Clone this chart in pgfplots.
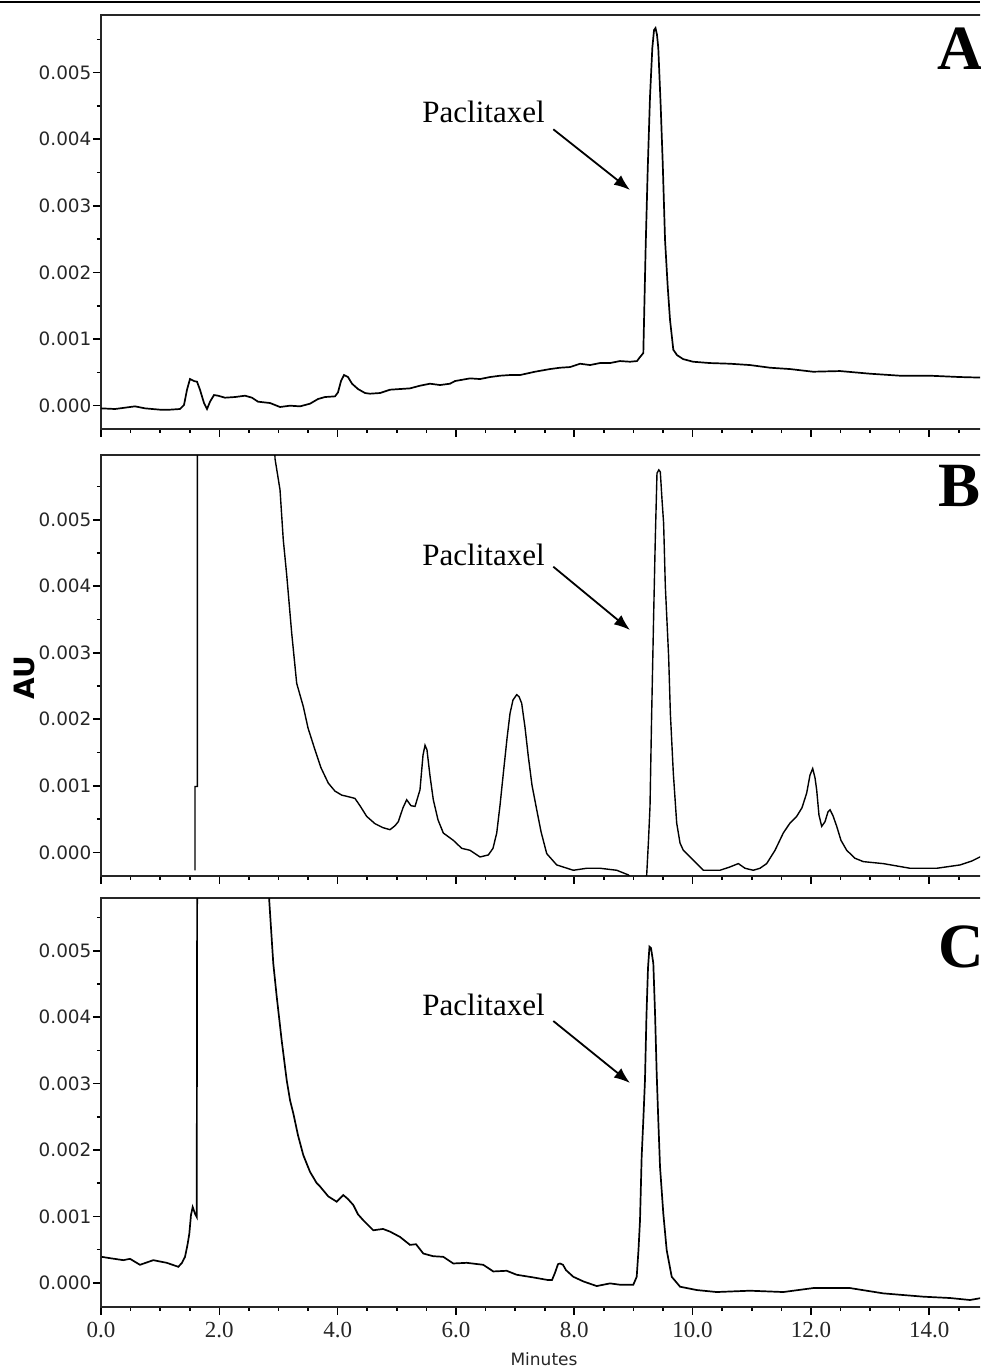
\documentclass[border=0pt]{standalone}
\usepackage{pgfplots}
\pgfplotsset{compat=1.18}
\usepackage{fontspec}
\setmainfont{Liberation Serif}
\newfontfamily\dejavu{DejaVu Sans}
\usetikzlibrary{arrows.meta}

\pgfplotsset{
  chrom/.style={
    scale only axis, width=443.7pt, anchor=north west,
    xmin=0, xmax=15,
    xtick={0,2,4,6,8,10,12,14},
    minor xtick={0.5,1,1.5,2.5,3,3.5,4.5,5,5.5,6.5,7,7.5,8.5,9,9.5,10.5,11,11.5,12.5,13,13.5,14.5},
    ytick={0,0.001,0.002,0.003,0.004,0.005},
    minor ytick={0.0005,0.0015,0.0025,0.0035,0.0045,0.0055},
    yticklabels={0.000,0.001,0.002,0.003,0.004,0.005},
    scaled y ticks=false, scaled x ticks=false,
    tick align=outside, xtick pos=left, ytick pos=left,
    major tick length=4pt, minor tick length=2pt,
    axis line style={line width=0.9pt, black!85},
    tick style={line width=0.8pt, black},
    yticklabel style={font=\dejavu\fontsize{9.2}{10}\selectfont, inner xsep=0.6pt, text=black!85},
    xticklabel style={font=\fontsize{11.5}{12}\selectfont, text=black!85},
  }
}

\begin{document}
\begin{tikzpicture}
\useasboundingbox (0,0) rectangle (490pt,-684.5pt);
\clip (0,0) rectangle (490pt,-684.5pt);

% ---------- Panel A ----------
\begin{axis}[chrom, at={(50.5pt,-7.5pt)}, height=207pt,
  ymin=-0.00035, ymax=0.005866, xticklabels={}]
\addplot[black, line width=0.85pt] coordinates {
(0.000,-0.00004) (0.237,-0.00005) (0.406,-0.00003) (0.575,-0.00001) (0.744,-0.00004)
(0.997,-0.00006) (1.166,-0.00006) (1.335,-0.00005) (1.403,0.00001) (1.454,0.00024)
(1.504,0.00040) (1.572,0.00037) (1.623,0.00036) (1.673,0.00024) (1.741,0.00004)
(1.792,-0.00005) (1.843,0.00006) (1.910,0.00016) (1.978,0.00015) (2.096,0.00012)
(2.265,0.00013) (2.434,0.00015) (2.552,0.00012) (2.654,0.00006) (2.857,0.00004)
(3.026,-0.00002) (3.195,0.00000) (3.364,-0.00001) (3.533,0.00003) (3.668,0.00010)
(3.786,0.00013) (3.955,0.00014) (4.006,0.00020) (4.057,0.00037) (4.108,0.00046)
(4.175,0.00043) (4.243,0.00033) (4.344,0.00025) (4.463,0.00019) (4.547,0.00018)
(4.716,0.00019) (4.885,0.00024) (5.054,0.00025) (5.223,0.00026) (5.392,0.00030)
(5.561,0.00033) (5.730,0.00031) (5.899,0.00033) (5.984,0.00037) (6.237,0.00041)
(6.406,0.00040) (6.575,0.00043) (6.744,0.00045) (6.913,0.00046) (7.082,0.00046)
(7.336,0.00051) (7.590,0.00055) (7.759,0.00057) (7.928,0.00058) (8.097,0.00063)
(8.266,0.00061) (8.435,0.00064) (8.604,0.00064) (8.773,0.00067) (8.942,0.00066)
(9.060,0.00067) (9.111,0.00073) (9.167,0.00079) (9.207,0.00240) (9.241,0.00354)
(9.280,0.00464) (9.319,0.00537) (9.348,0.00564) (9.373,0.00567) (9.398,0.00557)
(9.420,0.00537) (9.461,0.00449) (9.495,0.00364) (9.534,0.00249) (9.579,0.00179)
(9.618,0.00129) (9.674,0.00084) (9.736,0.00076) (9.838,0.00070) (10.007,0.00066)
(10.294,0.00064) (10.632,0.00063) (10.970,0.00061) (11.308,0.00057) (11.646,0.00055)
(12.035,0.00051) (12.492,0.00052) (13.000,0.00048) (13.506,0.00045) (14.013,0.00045)
(14.520,0.00043) (14.943,0.00042)
};
\end{axis}

% ---------- Panel B ----------
\begin{axis}[chrom, at={(50.5pt,-227.5pt)}, height=210.35pt,
  ymin=-0.000352, ymax=0.005974, xticklabels={}]
\addplot[black, line width=0.7pt] coordinates {
(1.589,-0.00027) (1.589,0.00099) (1.628,0.00099) (1.628,0.0075) (2.907,0.0075)
(2.941,0.00592) (3.026,0.00545) (3.081,0.00470) (3.139,0.00417) (3.224,0.00329)
(3.308,0.00254) (3.420,0.00219) (3.499,0.00187) (3.617,0.00154) (3.719,0.00127)
(3.842,0.00104) (3.955,0.00092) (4.069,0.00086) (4.209,0.00083) (4.293,0.00081)
(4.378,0.00070) (4.491,0.00054) (4.631,0.00043) (4.767,0.00037) (4.885,0.00034)
(4.970,0.00040) (5.025,0.00046) (5.105,0.00067) (5.167,0.00079) (5.240,0.00070)
(5.308,0.00069) (5.392,0.00094) (5.443,0.00146) (5.477,0.00161) (5.510,0.00154)
(5.561,0.00115) (5.617,0.00079) (5.696,0.00049) (5.786,0.00029) (5.955,0.00018)
(6.097,0.00006) (6.237,0.00003) (6.406,-0.00007) (6.547,-0.00004) (6.626,0.00006)
(6.689,0.00029) (6.745,0.00071) (6.801,0.00119) (6.864,0.00172) (6.914,0.00209)
(6.964,0.00229) (7.027,0.00237) (7.066,0.00234) (7.111,0.00224) (7.167,0.00188)
(7.223,0.00144) (7.285,0.00101) (7.365,0.00064) (7.438,0.00031) (7.534,-0.00002)
(7.703,-0.00019) (7.984,-0.00027) (8.210,-0.00024) (8.435,-0.00024) (8.717,-0.00027)
(8.913,-0.00034) (9.026,-0.00045) (9.179,-0.00045) (9.224,-0.00034) (9.255,0.00019)
(9.280,0.00069) (9.306,0.00199) (9.341,0.00354) (9.369,0.00470) (9.398,0.00570)
(9.429,0.00575) (9.454,0.00572) (9.483,0.00530) (9.510,0.00495) (9.539,0.00400)
(9.595,0.00294) (9.624,0.00209) (9.674,0.00119) (9.731,0.00044) (9.787,0.00014)
(9.843,0.00003) (10.012,-0.00012) (10.181,-0.00027) (10.463,-0.00027) (10.632,-0.00022)
(10.773,-0.00017) (10.886,-0.00024) (11.026,-0.00027) (11.139,-0.00024) (11.252,-0.00017)
(11.393,0.00003) (11.533,0.00029) (11.646,0.00044) (11.759,0.00054) (11.849,0.00067)
(11.928,0.00089) (11.984,0.00116) (12.030,0.00126) (12.069,0.00112) (12.097,0.00094)
(12.136,0.00056) (12.182,0.00039) (12.238,0.00046) (12.289,0.00061) (12.323,0.00064)
(12.373,0.00055) (12.436,0.00039) (12.508,0.00018) (12.605,0.00003) (12.745,-0.00009)
(12.885,-0.00014) (13.223,-0.00017) (13.675,-0.00024) (14.126,-0.00024) (14.520,-0.00019)
(14.723,-0.00013) (14.858,-0.00007) (15.000,0.00003)
};
\end{axis}

% ---------- Panel C ----------
\begin{axis}[chrom, at={(50.5pt,-449.15pt)}, height=204.2pt,
  ymin=-0.000361, ymax=0.005789,
  xticklabels={0.0,2.0,4.0,6.0,8.0,10.0,12.0,14.0}]
\addplot[black, line width=0.85pt] coordinates {
(0.012,0.00039) (0.152,0.00037) (0.377,0.00034) (0.490,0.00036) (0.659,0.00027)
(0.884,0.00034) (1.111,0.00030) (1.307,0.00024) (1.369,0.00030) (1.420,0.00039)
(1.462,0.00057) (1.493,0.00074) (1.521,0.00102) (1.550,0.00114) (1.589,0.00104)
(1.618,0.00099) (1.628,0.0075) (2.823,0.0075) (2.845,0.00574) (2.912,0.00481)
(2.970,0.00431) (3.054,0.00365) (3.139,0.00305) (3.195,0.00275) (3.251,0.00255)
(3.330,0.00222) (3.420,0.00192) (3.533,0.00167) (3.646,0.00150) (3.702,0.00145)
(3.842,0.00130) (3.984,0.00122) (4.096,0.00132) (4.175,0.00126) (4.265,0.00117)
(4.344,0.00103) (4.434,0.00094) (4.603,0.00079) (4.767,0.00081) (4.885,0.00077)
(5.054,0.00069) (5.223,0.00057) (5.325,0.00058) (5.448,0.00044) (5.612,0.00040)
(5.786,0.00039) (5.955,0.00029) (6.182,0.00030) (6.462,0.00027) (6.631,0.00017)
(6.858,0.00018) (7.027,0.00012) (7.307,0.00008) (7.561,0.00004) (7.623,0.00004)
(7.674,0.00015) (7.725,0.00028) (7.759,0.00029) (7.809,0.00027) (7.860,0.00019)
(7.983,0.00009) (8.153,0.00002) (8.379,-0.00005) (8.604,-0.00001) (8.773,-0.00003)
(8.998,-0.00003) (9.055,0.00009) (9.085,0.00049) (9.111,0.00094) (9.139,0.00190)
(9.167,0.00245) (9.195,0.00305) (9.220,0.00402) (9.246,0.00474) (9.271,0.00506)
(9.297,0.00504) (9.336,0.00481) (9.365,0.00406) (9.393,0.00315) (9.420,0.00245)
(9.449,0.00175) (9.505,0.00104) (9.562,0.00049) (9.647,0.00009) (9.788,-0.00006)
(10.069,-0.00011) (10.407,-0.00014) (10.970,-0.00012) (11.533,-0.00014) (12.040,-0.00008)
(12.660,-0.00008) (13.223,-0.00016) (13.900,-0.00021) (14.351,-0.00023) (14.689,-0.00026)
(14.943,-0.00022)
};
\end{axis}

% ---------- decorations ----------
\draw[line width=1.3pt] (0,-1pt) -- (490pt,-1pt);

\node[anchor=base west, inner sep=0pt, font=\fontsize{15.5}{16}\selectfont] at (211pt,-61.15pt) {Paclitaxel};
\draw[line width=0.9pt, -{Latex[length=8pt,width=6pt]}] (276.65pt,-64.65pt) -- (315pt,-95pt);

\node[anchor=base west, inner sep=0pt, font=\fontsize{15.5}{16}\selectfont] at (211pt,-282.5pt) {Paclitaxel};
\draw[line width=0.9pt, -{Latex[length=8pt,width=6pt]}] (276.65pt,-283.35pt) -- (315pt,-315pt);

\node[anchor=base west, inner sep=0pt, font=\fontsize{15.5}{16}\selectfont] at (211pt,-507.5pt) {Paclitaxel};
\draw[line width=0.9pt, -{Latex[length=8pt,width=6pt]}] (276.65pt,-510.5pt) -- (315pt,-541.5pt);

\node[anchor=base west, inner sep=0pt, font=\fontsize{31.5}{32}\selectfont\bfseries] at (468.5pt,-35pt) {A};
\node[anchor=base west, inner sep=0pt, font=\fontsize{31.5}{32}\selectfont\bfseries] at (469pt,-253.35pt) {B};
\node[anchor=base west, inner sep=0pt, font=\fontsize{31.5}{32}\selectfont\bfseries] at (469pt,-483.75pt) {C};

\node[rotate=90, inner sep=0pt, font=\dejavu\fontsize{14}{15}\selectfont\bfseries] at (12pt,-338.75pt) {AU};
\node[inner sep=0pt, font=\dejavu\fontsize{8.5}{9}\selectfont, text=black!85] at (272pt,-679.5pt) {Minutes};
\end{tikzpicture}
\end{document}
